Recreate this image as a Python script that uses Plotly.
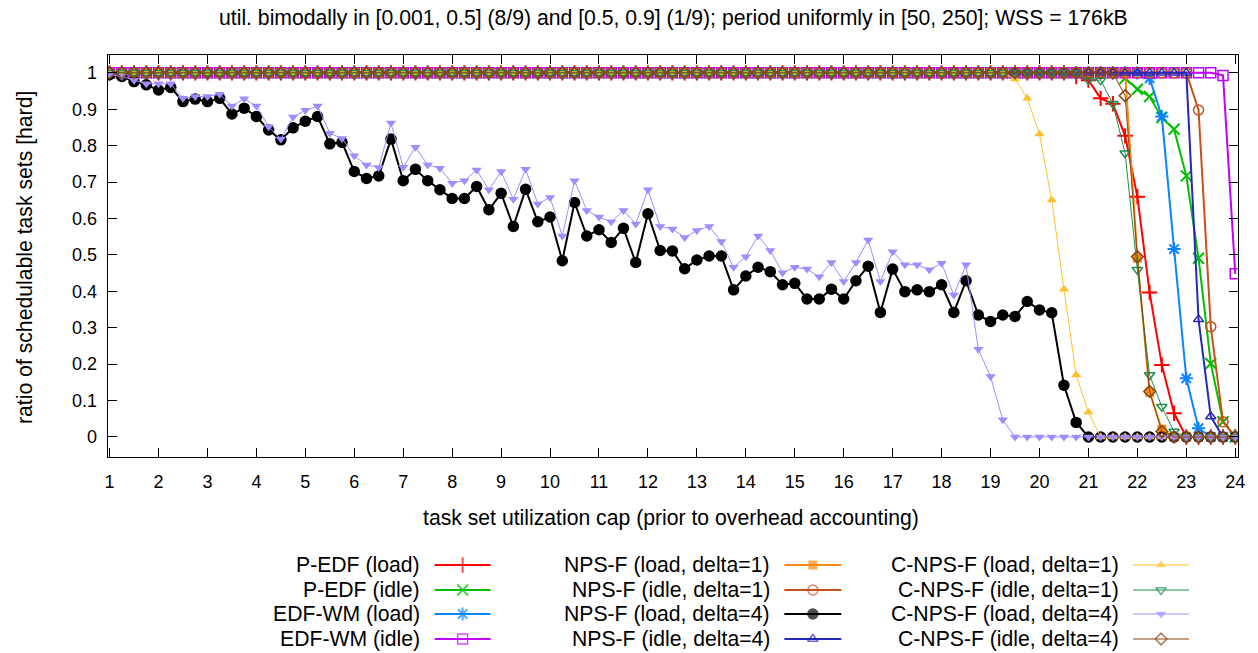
import plotly.graph_objects as go

W, H = 1258, 653
# horizontal correction so that rendered positions land on reference pixels
S = 1.008

X = [1, 1.25, 1.5, 1.75, 2, 2.25, 2.5, 2.75, 3, 3.25, 3.5, 3.75, 4, 4.25, 4.5, 4.75,
     5, 5.25, 5.5, 5.75, 6, 6.25, 6.5, 6.75, 7, 7.25, 7.5, 7.75, 8, 8.25, 8.5, 8.75,
     9, 9.25, 9.5, 9.75, 10, 10.25, 10.5, 10.75, 11, 11.25, 11.5, 11.75, 12, 12.25, 12.5, 12.75,
     13, 13.25, 13.5, 13.75, 14, 14.25, 14.5, 14.75, 15, 15.25, 15.5, 15.75, 16, 16.25, 16.5, 16.75,
     17, 17.25, 17.5, 17.75, 18, 18.25, 18.5, 18.75, 19, 19.25, 19.5, 19.75, 20, 20.25, 20.5, 20.75,
     21, 21.25, 21.5, 21.75, 22, 22.25, 22.5, 22.75, 23, 23.25, 23.5, 23.75, 24]

TICKS = [1, 2, 3, 4, 5, 6, 7, 8, 9, 10, 11, 12, 13, 14, 15, 16, 17, 18, 19, 20, 21, 22, 23, 24]
YTICKS = [0, 0.1, 0.2, 0.3, 0.4, 0.5, 0.6, 0.7, 0.8, 0.9, 1]
YTICKTEXT = ["0", "0.1", "0.2", "0.3", "0.4", "0.5", "0.6", "0.7", "0.8", "0.9", "1"]

P_EDF_LOAD = [1, 1, 1, 1, 1, 1, 1, 1, 1, 1, 1, 1, 1, 1, 1, 1,
              1, 1, 1, 1, 1, 1, 1, 1, 1, 1, 1, 1, 1, 1, 1, 1,
              1, 1, 1, 1, 1, 1, 1, 1, 1, 1, 1, 1, 1, 1, 1, 1,
              1, 1, 1, 1, 1, 1, 1, 1, 1, 1, 1, 1, 1, 1, 1, 1,
              1, 1, 1, 1, 1, 1, 1, 1, 1, 1, 1, 1, 1, 1, 1, 0.99,
              0.98, 0.93, 0.915, 0.827, 0.66, 0.397, 0.198, 0.065, 0, 0, 0, 0, 0]
P_EDF_IDLE = [1, 1, 1, 1, 1, 1, 1, 1, 1, 1, 1, 1, 1, 1, 1, 1,
              1, 1, 1, 1, 1, 1, 1, 1, 1, 1, 1, 1, 1, 1, 1, 1,
              1, 1, 1, 1, 1, 1, 1, 1, 1, 1, 1, 1, 1, 1, 1, 1,
              1, 1, 1, 1, 1, 1, 1, 1, 1, 1, 1, 1, 1, 1, 1, 1,
              1, 1, 1, 1, 1, 1, 1, 1, 1, 1, 1, 1, 1, 1, 1, 1,
              1, 1, 1, 0.985, 0.955, 0.935, 0.877, 0.845, 0.717, 0.491, 0.202, 0.042, 0]
EDF_WM_LOAD = [1, 1, 1, 1, 1, 1, 1, 1, 1, 1, 1, 1, 1, 1, 1, 1,
               1, 1, 1, 1, 1, 1, 1, 1, 1, 1, 1, 1, 1, 1, 1, 1,
               1, 1, 1, 1, 1, 1, 1, 1, 1, 1, 1, 1, 1, 1, 1, 1,
               1, 1, 1, 1, 1, 1, 1, 1, 1, 1, 1, 1, 1, 1, 1, 1,
               1, 1, 1, 1, 1, 1, 1, 1, 1, 1, 1, 1, 1, 1, 1, 1,
               1, 1, 1, 1, 1, 0.985, 0.88, 0.516, 0.161, 0.024, 0, 0, 0]
EDF_WM_IDLE = [1, 1, 1, 1, 1, 1, 1, 1, 1, 1, 1, 1, 1, 1, 1, 1,
               1, 1, 1, 1, 1, 1, 1, 1, 1, 1, 1, 1, 1, 1, 1, 1,
               1, 1, 1, 1, 1, 1, 1, 1, 1, 1, 1, 1, 1, 1, 1, 1,
               1, 1, 1, 1, 1, 1, 1, 1, 1, 1, 1, 1, 1, 1, 1, 1,
               1, 1, 1, 1, 1, 1, 1, 1, 1, 1, 1, 1, 1, 1, 1, 1,
               1, 1, 1, 1, 1, 1, 1, 1, 1, 1, 1, 0.993, 0.448]
NPS_F_LOAD_D1 = [1, 1, 1, 1, 1, 1, 1, 1, 1, 1, 1, 1, 1, 1, 1, 1,
                 1, 1, 1, 1, 1, 1, 1, 1, 1, 1, 1, 1, 1, 1, 1, 1,
                 1, 1, 1, 1, 1, 1, 1, 1, 1, 1, 1, 1, 1, 1, 1, 1,
                 1, 1, 1, 1, 1, 1, 1, 1, 1, 1, 1, 1, 1, 1, 1, 1,
                 1, 1, 1, 1, 1, 1, 1, 1, 1, 1, 1, 1, 1, 1, 1, 1,
                 1, 1, 1, 1, 0.491, 0.123, 0.021, 0, 0, 0, 0, 0, 0]
NPS_F_IDLE_D1 = [1, 1, 1, 1, 1, 1, 1, 1, 1, 1, 1, 1, 1, 1, 1, 1,
                 1, 1, 1, 1, 1, 1, 1, 1, 1, 1, 1, 1, 1, 1, 1, 1,
                 1, 1, 1, 1, 1, 1, 1, 1, 1, 1, 1, 1, 1, 1, 1, 1,
                 1, 1, 1, 1, 1, 1, 1, 1, 1, 1, 1, 1, 1, 1, 1, 1,
                 1, 1, 1, 1, 1, 1, 1, 1, 1, 1, 1, 1, 1, 1, 1, 1,
                 1, 1, 1, 1, 1, 1, 1, 1, 1, 0.898, 0.303, 0.042, 0]
NPS_F_LOAD_D4 = [0.995, 0.99, 0.976, 0.967, 0.953, 0.96, 0.921, 0.928, 0.921, 0.93, 0.887, 0.903, 0.88, 0.843, 0.816, 0.849,
                 0.867, 0.88, 0.805, 0.809, 0.729, 0.71, 0.717, 0.818, 0.704, 0.735, 0.704, 0.679, 0.655, 0.655, 0.688, 0.624,
                 0.669, 0.578, 0.68, 0.591, 0.604, 0.484, 0.644, 0.552, 0.569, 0.534, 0.573, 0.479, 0.613, 0.512, 0.511, 0.462,
                 0.486, 0.497, 0.497, 0.404, 0.442, 0.466, 0.454, 0.418, 0.422, 0.379, 0.379, 0.406, 0.379, 0.429, 0.469, 0.342,
                 0.461, 0.399, 0.404, 0.399, 0.418, 0.342, 0.429, 0.335, 0.317, 0.335, 0.331, 0.372, 0.349, 0.341, 0.142, 0.04,
                 0, 0, 0, 0, 0, 0, 0, 0, 0, 0, 0, 0, 0]
NPS_F_IDLE_D4 = [1, 1, 1, 1, 1, 1, 1, 1, 1, 1, 1, 1, 1, 1, 1, 1,
                 1, 1, 1, 1, 1, 1, 1, 1, 1, 1, 1, 1, 1, 1, 1, 1,
                 1, 1, 1, 1, 1, 1, 1, 1, 1, 1, 1, 1, 1, 1, 1, 1,
                 1, 1, 1, 1, 1, 1, 1, 1, 1, 1, 1, 1, 1, 1, 1, 1,
                 1, 1, 1, 1, 1, 1, 1, 1, 1, 1, 1, 1, 1, 1, 1, 1,
                 1, 1, 1, 1, 1, 1, 1, 1, 1, 0.323, 0.056, 0, 0]
C_NPS_F_LOAD_D1 = [1, 1, 1, 1, 1, 1, 1, 1, 1, 1, 1, 1, 1, 1, 1, 1,
                   1, 1, 1, 1, 1, 1, 1, 1, 1, 1, 1, 1, 1, 1, 1, 1,
                   1, 1, 1, 1, 1, 1, 1, 1, 1, 1, 1, 1, 1, 1, 1, 1,
                   1, 1, 1, 1, 1, 1, 1, 1, 1, 1, 1, 1, 1, 1, 1, 1,
                   1, 1, 1, 1, 1, 1, 1, 1, 1, 1, 0.983, 0.93, 0.832, 0.651, 0.406, 0.17,
                   0.068, 0, 0, 0, 0, 0, 0, 0, 0, 0, 0, 0, 0]
C_NPS_F_IDLE_D1 = [1, 1, 1, 1, 1, 1, 1, 1, 1, 1, 1, 1, 1, 1, 1, 1,
                   1, 1, 1, 1, 1, 1, 1, 1, 1, 1, 1, 1, 1, 1, 1, 1,
                   1, 1, 1, 1, 1, 1, 1, 1, 1, 1, 1, 1, 1, 1, 1, 1,
                   1, 1, 1, 1, 1, 1, 1, 1, 1, 1, 1, 1, 1, 1, 1, 1,
                   1, 1, 1, 1, 1, 1, 1, 1, 1, 1, 1, 1, 1, 1, 1, 1,
                   0.98, 0.98, 0.915, 0.779, 0.459, 0.17, 0.083, 0.015, 0, 0, 0, 0, 0]
C_NPS_F_LOAD_D4 = [0.995, 0.99, 0.98, 0.97, 0.97, 0.97, 0.93, 0.935, 0.935, 0.941, 0.909, 0.929, 0.909, 0.852, 0.818, 0.879,
                   0.897, 0.909, 0.834, 0.82, 0.772, 0.747, 0.74, 0.862, 0.741, 0.796, 0.747, 0.738, 0.697, 0.704, 0.733, 0.679,
                   0.729, 0.653, 0.735, 0.64, 0.658, 0.552, 0.704, 0.622, 0.604, 0.591, 0.622, 0.585, 0.679, 0.578, 0.571, 0.548,
                   0.567, 0.578, 0.537, 0.466, 0.495, 0.552, 0.512, 0.451, 0.466, 0.461, 0.44, 0.479, 0.427, 0.479, 0.541, 0.427,
                   0.509, 0.473, 0.473, 0.459, 0.477, 0.39, 0.473, 0.241, 0.166, 0.047, 0, 0, 0, 0, 0, 0,
                   0, 0, 0, 0, 0, 0, 0, 0, 0, 0, 0, 0, 0]
C_NPS_F_IDLE_D4 = [1, 1, 1, 1, 1, 1, 1, 1, 1, 1, 1, 1, 1, 1, 1, 1,
                   1, 1, 1, 1, 1, 1, 1, 1, 1, 1, 1, 1, 1, 1, 1, 1,
                   1, 1, 1, 1, 1, 1, 1, 1, 1, 1, 1, 1, 1, 1, 1, 1,
                   1, 1, 1, 1, 1, 1, 1, 1, 1, 1, 1, 1, 1, 1, 1, 1,
                   1, 1, 1, 1, 1, 1, 1, 1, 1, 1, 1, 1, 1, 1, 1, 1,
                   1, 1, 1, 0.937, 0.495, 0.125, 0.015, 0, 0, 0, 0, 0, 0]

NAMES = ["P-EDF (load)", "P-EDF (idle)", "EDF-WM (load)", "EDF-WM (idle)",
         "NPS-F (load, delta=1)", "NPS-F (idle, delta=1)", "NPS-F (load, delta=4)", "NPS-F (idle, delta=4)",
         "C-NPS-F (load, delta=1)", "C-NPS-F (idle, delta=1)", "C-NPS-F (load, delta=4)", "C-NPS-F (idle, delta=4)"]
SERIES = [P_EDF_LOAD, P_EDF_IDLE, EDF_WM_LOAD, EDF_WM_IDLE,
          NPS_F_LOAD_D1, NPS_F_IDLE_D1, NPS_F_LOAD_D4, NPS_F_IDLE_D4,
          C_NPS_F_LOAD_D1, C_NPS_F_IDLE_D1, C_NPS_F_LOAD_D4, C_NPS_F_IDLE_D4]

# styles: color, symbol, marker size, line width
STYLES = [
    ("#ff0000", "cross-thin", 11, 2),
    ("#00c000", "x-thin", 11, 2),
    ("#0a84ff", "asterisk", 11, 2),
    ("#c000ff", "square-open", 10, 2),
    ("#f58a10", "square", 9, 2),
    ("#c8501a", "circle-open", 10, 2),
    ("#000000", "circle", 11.5, 2),
    ("#2828b8", "triangle-up-open", 9, 2),
    ("#ffc030", "triangle-up", 9, 1),
    ("#1f8f50", "triangle-down-open", 9, 1),
    ("#a08cff", "triangle-down", 9, 1),
    ("#8b4513", "diamond-open", 9, 1),
]

FONT = "Liberation Sans, Arial, sans-serif"
FS = 21.2
TFS = 18


def fx(p):
    return p * S / W


def fy(p):
    return 1 - p / H


def marker_for(sym, ms, col, sizes=None):
    thin = sym.endswith("thin") or sym == "asterisk"
    lw = 2 if thin else (1.5 if sym.endswith("open") else 0)
    return dict(symbol=sym, size=ms if sizes is None else sizes, color=col, line=dict(color=col, width=lw))


fig = go.Figure()

for name, ys, (col, sym, ms, lw) in zip(NAMES, SERIES, STYLES):
    fig.add_trace(go.Scatter(x=X, y=ys, mode="lines+markers", name=name,
                             line=dict(color=col, width=lw), marker=marker_for(sym, ms, col),
                             showlegend=False, xaxis="x", yaxis="y"))

# manual legend (gnuplot style: text right-aligned, key sample on the right)
COL_TEXT_RIGHT = [419, 770, 1119]
COL_LINE = [(432, 488), (782, 839), (1131, 1187)]
ROWS = [565, 590, 614, 639]
annotations = []
for i, (name, (col, sym, ms, lw)) in enumerate(zip(NAMES, STYLES)):
    c, r = divmod(i, 4)
    yy = ROWS[r]
    x0, x1 = COL_LINE[c]
    fig.add_trace(go.Scatter(x=[x0, (x0 + x1) / 2, x1], y=[yy, yy, yy], mode="lines+markers",
                             line=dict(color=col, width=lw), marker=marker_for(sym, ms, col, [0, ms, 0]),
                             showlegend=False, hoverinfo="skip", xaxis="x2", yaxis="y2"))
    annotations.append(dict(text=name, x=fx(COL_TEXT_RIGHT[c]), y=fy(yy), xref="paper", yref="paper",
                            xanchor="right", yanchor="middle", showarrow=False,
                            font=dict(family=FONT, size=FS, color="black")))

annotations.append(dict(text="util. bimodally in [0.001, 0.5] (8/9) and [0.5, 0.9] (1/9); period uniformly in [50, 250]; WSS = 176kB",
                        x=fx(671), y=fy(18), xref="paper", yref="paper", xanchor="center", yanchor="middle",
                        showarrow=False, font=dict(family=FONT, size=FS, color="black")))
annotations.append(dict(text="task set utilization cap (prior to overhead accounting)",
                        x=fx(669), y=fy(518), xref="paper", yref="paper", xanchor="center", yanchor="middle",
                        showarrow=False, font=dict(family=FONT, size=FS, color="black")))
annotations.append(dict(text="ratio of schedulable task sets [hard]", textangle=-90,
                        x=fx(22), y=fy(257), xref="paper", yref="paper", xanchor="center", yanchor="middle",
                        showarrow=False, font=dict(family=FONT, size=FS, color="black")))

L, R, T, B = 104.7, 1235.7, 55, 457
fig.update_layout(
    width=W, height=H,
    margin=dict(l=0, r=0, t=0, b=0),
    paper_bgcolor="white", plot_bgcolor="rgba(0,0,0,0)",
    showlegend=False,
    font=dict(family=FONT, size=FS, color="black"),
    annotations=annotations,
    xaxis=dict(domain=[fx(L), fx(R)], range=[0.96, 24.05], tickvals=TICKS,
               ticks="inside", ticklen=9, tickwidth=1, tickcolor="black",
               showline=True, linecolor="black", linewidth=1, mirror="allticks",
               showgrid=False, zeroline=False, ticklabelstandoff=8,
               tickfont=dict(family=FONT, size=TFS, color="black"), anchor="y"),
    yaxis=dict(domain=[fy(B), fy(T)], range=[-0.055, 1.049], tickvals=YTICKS, ticktext=YTICKTEXT,
               ticks="inside", ticklen=9, tickwidth=1, tickcolor="black",
               showline=True, linecolor="black", linewidth=1, mirror="allticks",
               showgrid=False, zeroline=False, ticklabelstandoff=6,
               tickfont=dict(family=FONT, size=TFS, color="black"), anchor="x"),
    xaxis2=dict(domain=[0, 1], range=[0, W / S], visible=False, anchor="y2", fixedrange=True),
    yaxis2=dict(domain=[0, 1], range=[H, 0], visible=False, anchor="x2", fixedrange=True),
)

fig.write_html("out.html", config={"displayModeBar": False},
               post_script="document.body.style.margin='0';document.body.style.overflow='hidden';")
